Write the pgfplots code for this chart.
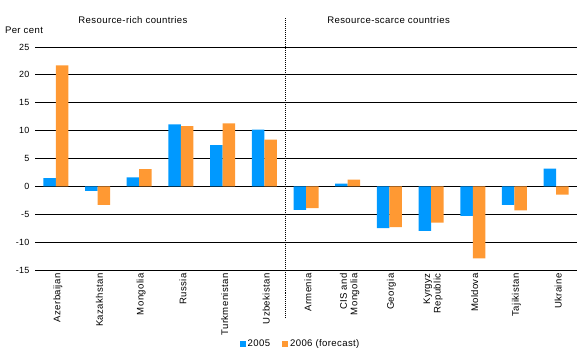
\documentclass[border=0pt]{standalone}
\usepackage{pgfplots}
\pgfplotsset{compat=1.18}
\usepackage{fontspec}
\setmainfont{Liberation Sans}[LetterSpace=4]
\definecolor{cblue}{RGB}{0,153,255}
\definecolor{corange}{RGB}{255,153,51}
\newcommand{\tf}{\fontsize{9.6}{10.6}\selectfont}
\begin{document}
\begin{tikzpicture}
\begin{axis}[
  scale only axis,
  width=542bp, height=223bp,
  xmin=-0.5, xmax=12.5,
  ymin=-15, ymax=25,
  ytick={-15,-10,...,25},
  xtick={0,...,12},
  xticklabels={Azerbaijan,Kazakhstan,Mongolia,Russia,Turkmenistan,Uzbekistan,Armenia,{CIS and\\Mongolia},Georgia,{Kyrgyz\\Republic},Moldova,Tajikistan,Ukraine},
  axis line style={draw=none},
  ymajorgrids,
  major grid style={black, line width=0.8bp},
  major tick length=0pt,
  ybar=0pt,
  bar width=12.5bp,
  clip=false,
  /pgf/number format/assume math mode=true,
  tick label style={font=\tf},
  yticklabel style={font=\fontsize{9}{10}\selectfont, xshift=-2bp},
  xticklabel style={rotate=90, anchor=east, align=right, yshift=-2bp},
  legend style={at={(rel axis cs:0.49,-0.332)}, anchor=center, draw=none, legend columns=2, font=\tf, /tikz/every even column/.append style={column sep=10bp}},
  legend image code/.code={\fill[#1] (0bp,-3bp) rectangle (6bp,3bp);},
]
\addplot[fill=cblue, draw=none] coordinates {(0,1.5) (1,-0.8) (2,1.6) (3,11.1) (4,7.4) (5,10.2) (6,-4.2) (7,0.5) (8,-7.5) (9,-8.0) (10,-5.3) (11,-3.3) (12,3.2)};
\addplot[fill=corange, draw=none] coordinates {(0,21.7) (1,-3.3) (2,3.1) (3,10.8) (4,11.3) (5,8.4) (6,-3.9) (7,1.2) (8,-7.3) (9,-6.5) (10,-12.9) (11,-4.3) (12,-1.5)};
\legend{2005,2006 (forecast)}
\draw[densely dotted, line width=1bp] (axis cs:5.5,30.2) -- (axis cs:5.5,-23.6);
\node[font=\tf] at (axis cs:1.85,29.8) {Resource-rich countries};
\node[font=\tf] at (axis cs:7.98,29.8) {Resource-scarce countries};
\node[font=\tf] at (axis cs:-0.764,28.05) {Per cent};
\end{axis}
\path[use as bounding box] (-35bp,-88bp) rectangle (551bp,270bp);
\end{tikzpicture}
\end{document}
